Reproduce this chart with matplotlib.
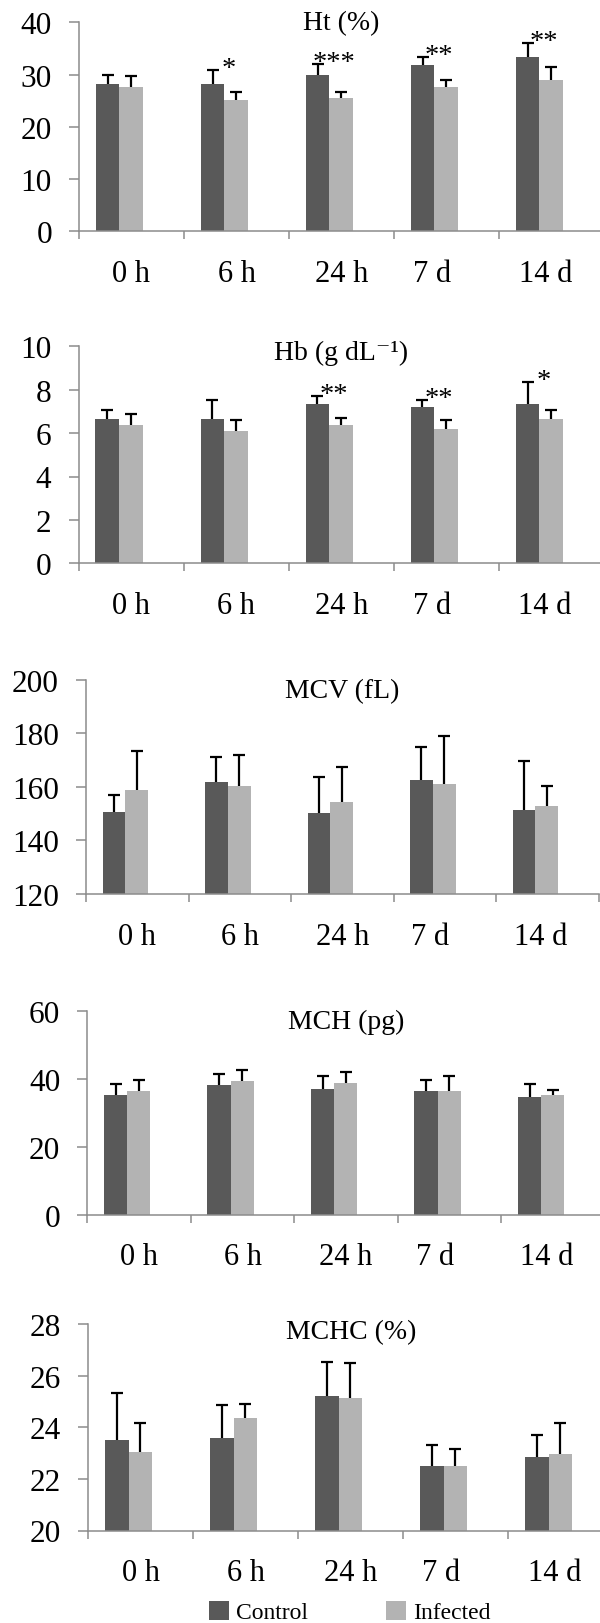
import numpy as np
import matplotlib
matplotlib.use('Agg')
import matplotlib.pyplot as plt
from matplotlib.patches import Patch

plt.rcParams['font.family'] = ['Liberation Serif', 'DejaVu Serif']

# ---------------- data ----------------
categories = ['0 h', '6 h', '24 h', '7 d', '14 d']
series_names = ['Control', 'Infected']

ht_ctrl = [28.1, 28.1, 30.0, 31.9, 33.4]
ht_ctrl_sd = [1.8, 2.8, 2.0, 1.4, 2.6]
ht_inf = [27.7, 25.1, 25.5, 27.7, 28.9]
ht_inf_sd = [2.1, 1.6, 1.2, 1.3, 2.5]
ht_sig = ['', '*', '***', '**', '**']

hb_ctrl = [6.65, 6.65, 7.36, 7.19, 7.36]
hb_ctrl_sd = [0.43, 0.89, 0.34, 0.35, 0.98]
hb_inf = [6.37, 6.08, 6.36, 6.18, 6.65]
hb_inf_sd = [0.53, 0.54, 0.32, 0.44, 0.43]
hb_sig = ['', '', '**', '**', '*']

mcv_ctrl = [150.7, 161.7, 150.1, 162.6, 151.2]
mcv_ctrl_sd = [6.4, 9.4, 13.7, 12.3, 18.6]
mcv_inf = [158.8, 160.4, 154.5, 161.1, 153.0]
mcv_inf_sd = [14.7, 11.5, 13.0, 18.0, 7.2]
mcv_sig = ['', '', '', '', '']

mch_ctrl = [35.2, 38.2, 37.0, 36.4, 34.6]
mch_ctrl_sd = [3.2, 3.2, 3.7, 3.3, 3.8]
mch_inf = [36.4, 39.2, 38.7, 36.4, 35.2]
mch_inf_sd = [3.3, 3.3, 3.2, 4.3, 1.5]
mch_sig = ['', '', '', '', '']

mchc_ctrl = [23.5, 23.57, 25.2, 22.5, 22.86]
mchc_ctrl_sd = [1.82, 1.28, 1.34, 0.83, 0.84]
mchc_inf = [23.03, 24.35, 25.12, 22.5, 22.97]
mchc_inf_sd = [1.13, 0.57, 1.36, 0.64, 1.18]
mchc_sig = ['', '', '', '', '']

titles = ['Ht (%)', 'Hb (g dL\u207b\u00b9)', 'MCV (fL)', 'MCH (pg)', 'MCHC (%)']
y_ranges = [(0, 40, 10), (0, 10, 2), (120, 200, 20), (0, 60, 20), (20, 28, 2)]

# ---------------- style ----------------
DARK = '#595959'
LIGHT = '#b3b3b3'
AXIS_GREY = '#8c8c8c'
W, H = 600, 1624

rects_px = [(79, 23.3, 604, 232.3),
            (78.5, 347.3, 604, 564.3),
            (86, 680.7, 598.5, 895),
            (87.3, 1011.7, 604.8, 1215.7),
            (88.3, 1325, 613.3, 1531.5)]
title_drop_px = [0, 6, 11, 11, 8]
label_shift = np.array([0, 0, 0, -0.14, -0.06])
pair_offset = -0.115
bar_w = 0.224

panels = [
    (ht_ctrl, ht_ctrl_sd, ht_inf, ht_inf_sd, ht_sig),
    (hb_ctrl, hb_ctrl_sd, hb_inf, hb_inf_sd, hb_sig),
    (mcv_ctrl, mcv_ctrl_sd, mcv_inf, mcv_inf_sd, mcv_sig),
    (mch_ctrl, mch_ctrl_sd, mch_inf, mch_inf_sd, mch_sig),
    (mchc_ctrl, mchc_ctrl_sd, mchc_inf, mchc_inf_sd, mchc_sig),
]

fig = plt.figure(figsize=(W / 100, H / 100), dpi=100)


def upper_errorbar(ax, xs, means, sds):
    cont = ax.errorbar(xs, means, yerr=[np.zeros(len(means)), sds], fmt='none',
                       ecolor='black', elinewidth=1.6, capsize=4.3, capthick=1.6, zorder=3)
    caps = cont.lines[1]
    if len(caps) == 2:
        caps[0].set_visible(False)


x = np.arange(len(categories))
for i, (c, csd, inf, isd, sig) in enumerate(panels):
    l, t, r, b = rects_px[i]
    ax = fig.add_axes([l / W, 1 - b / H, (r - l) / W, (b - t) / H])
    xc = x + pair_offset
    ax.bar(xc - bar_w / 2, c, width=bar_w, color=DARK, zorder=2)
    ax.bar(xc + bar_w / 2, inf, width=bar_w, color=LIGHT, zorder=2)
    upper_errorbar(ax, xc - bar_w / 2, c, csd)
    upper_errorbar(ax, xc + bar_w / 2, inf, isd)
    for k, s in enumerate(sig):
        if s:
            ax.annotate(s, xy=(xc[k] + 0.04, c[k] + csd[k]), xytext=(0, 1),
                        textcoords='offset points', ha='center', va='center',
                        fontsize=20.5, color='black', zorder=4)
    lo, hi, st = y_ranges[i]
    ax.set_ylim(lo, hi)
    ax.set_yticks(np.arange(lo, hi + st / 2, st))
    ax.set_xlim(-0.5, 4.5)
    ax.set_xticks(x + label_shift)
    ax.set_xticklabels(categories)
    ax.set_xticks(np.arange(-0.5, 5.0, 1.0), minor=True)
    ax.tick_params(axis='x', which='major', length=0, pad=20, labelsize=22)
    ax.tick_params(axis='x', which='minor', length=5.5, width=1.1, color=AXIS_GREY, direction='out')
    ax.tick_params(axis='y', which='major', length=7.5, width=1.1, color=AXIS_GREY,
                   direction='out', pad=12, labelsize=22.5)
    for sp in ['top', 'right']:
        ax.spines[sp].set_visible(False)
    for sp in ['left', 'bottom']:
        ax.spines[sp].set_color(AXIS_GREY)
        ax.spines[sp].set_linewidth(1.1)
    drop = title_drop_px[i] / (b - t)
    ax.text(0.5, 1 - drop, titles[i], transform=ax.transAxes, ha='center', va='center',
            fontsize=20, color='black')

handles = [Patch(facecolor=DARK, edgecolor='none'), Patch(facecolor=LIGHT, edgecolor='none')]
fig.legend(handles=handles, labels=series_names, loc='center',
           bbox_to_anchor=(349.4 / W, 1 - 1613 / H), ncol=2, frameon=False, fontsize=17,
           handlelength=0.85, handleheight=0.85, handletextpad=0.3, columnspacing=3.3,
           borderpad=0, borderaxespad=0)

fig.savefig('out.png', dpi=100)
